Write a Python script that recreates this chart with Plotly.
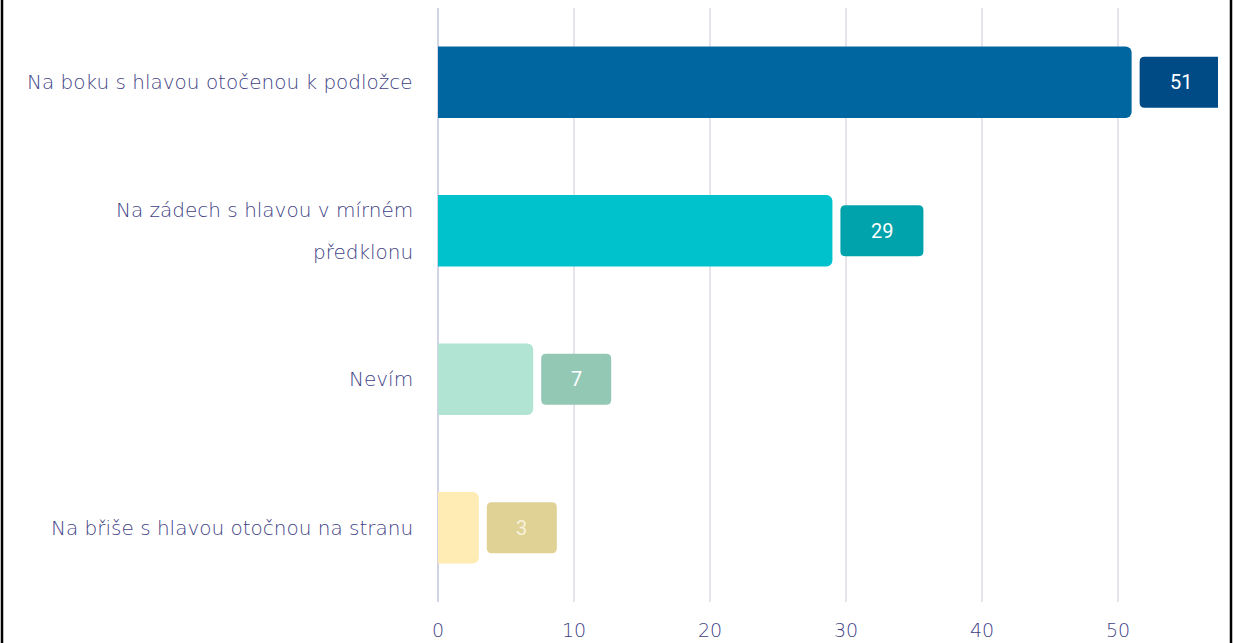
import plotly.graph_objects as go

# Survey answers (top to bottom) and counts
categories = [
    "Na boku s hlavou otočenou k podložce",
    "Na zádech s hlavou v mírném\npředklonu",
    "Nevím",
    "Na břiše s hlavou otočnou na stranu",
]
values = [51, 29, 7, 3]
bar_colors = ["#00669f", "#00c2cc", "#b1e4d3", "#feecb4"]
label_colors = ["#004b86", "#00a3ab", "#93c8b5", "#e0d195"]
label_text_colors = ["#ffffff", "#ffffff", "#ffffff", "#f7f1dc"]
x_ticks = [0, 10, 20, 30, 40, 50]

TEXT = "#3f3f86"
FONT = "'DejaVu Sans', sans-serif"

W, H = 1234, 643
ML, MR, MT, MB = 438, 16, 8, 41
X_MAX = 57.35

ypos = list(range(len(categories)))

fig = go.Figure()
fig.add_trace(go.Bar(
    y=ypos, x=values, orientation="h",
    marker=dict(color=bar_colors, line=dict(width=0), cornerradius=6),
    width=0.48, hoverinfo="skip", showlegend=False,
))

shapes = []
annotations = []

def rounded_box(x0, x1, y0, y1, r):
    return (f"M{x0 + r},{y0} L{x1 - r},{y0} Q{x1},{y0} {x1},{y0 + r} "
            f"L{x1},{y1 - r} Q{x1},{y1} {x1 - r},{y1} L{x0 + r},{y1} "
            f"Q{x0},{y1} {x0},{y1 - r} L{x0},{y0 + r} Q{x0},{y0} {x0 + r},{y0} Z")

# value badges next to each bar end
for i, (v, c, tc) in enumerate(zip(values, label_colors, label_text_colors)):
    bw = 83 if v >= 10 else 70
    gap = 8
    shapes.append(dict(
        type="path", xref="x", yref="y",
        xsizemode="pixel", ysizemode="pixel",
        xanchor=v, yanchor=i,
        path=rounded_box(gap, gap + bw, -25.5, 25.5, 5),
        fillcolor=c, line=dict(width=0), layer="above",
    ))
    annotations.append(dict(
        x=v, y=i, xref="x", yref="y", xshift=gap + bw / 2,
        text=str(v), showarrow=False,
        font=dict(family="Roboto, sans-serif", size=20, color=tc),
        xanchor="center", yanchor="middle",
    ))

# category labels, wrapped lines spread apart
for i, cat in enumerate(categories):
    lines = cat.split("\n")
    n = len(lines)
    for k, line in enumerate(lines):
        annotations.append(dict(
            x=0, y=i, xref="paper", yref="y", xshift=-23,
            yshift=((n - 1) / 2 - k) * 42,
            text=line, showarrow=False,
            font=dict(family=FONT, size=20, color=TEXT, weight=300),
            xanchor="right", yanchor="middle",
        ))

# frame lines at both sides
for px in (2, 1231):
    xp = (px - ML) / (W - ML - MR)
    shapes.append(dict(type="line", xref="paper", yref="paper",
                       x0=xp, x1=xp, y0=-0.2, y1=1.2,
                       line=dict(color="#000000", width=2.5)))

fig.update_layout(
    width=W, height=H,
    margin=dict(l=ML, r=MR, t=MT, b=MB, autoexpand=False),
    paper_bgcolor="#ffffff", plot_bgcolor="#ffffff",
    barmode="overlay",
    shapes=shapes, annotations=annotations,
    xaxis=dict(
        range=[0, X_MAX], tickvals=x_ticks, automargin=False,
        showgrid=True, gridcolor="#e4e4ea", gridwidth=1.5,
        zeroline=True, zerolinecolor="#d3d3e8", zerolinewidth=2,
        showline=False, ticks="", ticklabelstandoff=15,
        tickfont=dict(family=FONT, size=19, color=TEXT, weight=300),
        fixedrange=True,
    ),
    yaxis=dict(
        range=[len(categories) - 0.5, -0.5], automargin=False,
        showticklabels=False, showgrid=False, zeroline=False,
        showline=False, ticks="", fixedrange=True,
    ),
)

fig.write_html("out.html", config={"displayModeBar": False})
